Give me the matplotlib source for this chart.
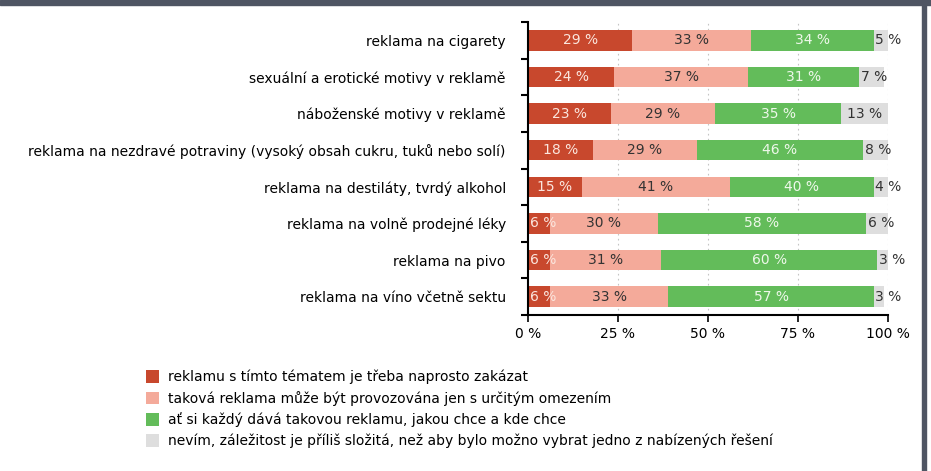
import numpy as np
import matplotlib.pyplot as plt
from matplotlib.patches import Patch

plt.rcParams['font.family'] = ['DejaVu Sans']

categories = [
    'reklama na cigarety',
    'sexuální a erotické motivy v reklamě',
    'náboženské motivy v reklamě',
    'reklama na nezdravé potraviny (vysoký obsah cukru, tuků nebo solí)',
    'reklama na destiláty, tvrdý alkohol',
    'reklama na volně prodejné léky',
    'reklama na pivo',
    'reklama na víno včetně sektu',
]
zakazat = [29, 24, 23, 18, 15, 6, 6, 6]
omezenim = [33, 37, 29, 29, 41, 30, 31, 33]
kazdy = [34, 31, 35, 46, 40, 58, 60, 57]
nevim = [5, 7, 13, 8, 4, 6, 3, 3]

series_names = [
    'reklamu s tímto tématem je třeba naprosto zakázat',
    'taková reklama může být provozována jen s určitým omezením',
    'ať si každý dává takovou reklamu, jakou chce a kde chce',
    'nevím, záležitost je příliš složitá, než aby bylo možno vybrat jedno z nabízených řešení',
]
colors = ['#c8482d', '#f4aa9a', '#63bc5a', '#dedede']
text_colors = ['#fbe6de', '#333333', '#eef8ea', '#333333']
ticks = [0, 25, 50, 75, 100]
tick_labels = ['0 %', '25 %', '50 %', '75 %', '100 %']

fig = plt.figure(figsize=(9.31, 4.71), dpi=100)
ax = fig.add_axes([528 / 931, 1 - 315 / 471, 360 / 931, 293 / 471])

y = np.arange(len(categories))
left = np.zeros(len(categories))
for vals, col, tcol in zip([zakazat, omezenim, kazdy, nevim], colors, text_colors):
    vals = np.array(vals)
    bars = ax.barh(y, vals, left=left, color=col, height=0.56, zorder=2)
    for b, v in zip(bars, vals):
        cy = b.get_y() + b.get_height() / 2
        if v < 9:
            # narrow segment: label starts at the segment edge
            ax.text(b.get_x() + 0.5, cy, f'{v} %', ha='left', va='center',
                    fontsize=10, color=tcol, zorder=3)
        else:
            ax.text(b.get_x() + b.get_width() / 2, cy, f'{v} %', ha='center',
                    va='center', fontsize=10, color=tcol, zorder=3)
    left += vals

ax.set_ylim(len(categories) - 0.5, -0.5)
ax.set_xlim(0, 100)
ax.set_xticks(ticks)
ax.set_xticklabels(tick_labels, fontsize=10)
ax.set_yticks(y)
ax.set_yticklabels(categories, fontsize=10)
ax.tick_params(axis='y', length=0, pad=16)
ax.set_yticks(np.arange(-0.5, len(categories), 1), minor=True)
ax.tick_params(axis='y', which='minor', length=5, width=1.5)
ax.tick_params(axis='x', length=5, width=1.2, pad=4)
for xv in ticks[1:]:
    ax.axvline(xv, color='#c4c4c4', lw=0.8, ls=(0, (1.5, 3)), zorder=1)

ax.spines['top'].set_visible(False)
ax.spines['right'].set_visible(False)
ax.spines['left'].set_linewidth(1.5)
ax.spines['bottom'].set_linewidth(1.5)

handles = [Patch(facecolor=c, edgecolor='none') for c in colors]
fig.legend(handles, series_names, loc='upper left', bbox_to_anchor=(140 / 931, 1 - 364 / 471),
           frameon=False, fontsize=10, handlelength=1.0, handleheight=1.0,
           handletextpad=0.6, labelspacing=0.48, borderaxespad=0)

# frame decoration
fig.patches.append(plt.Rectangle((0, 1 - 5 / 471), 1, 5 / 471, transform=fig.transFigure,
                                 color='#4f5563', zorder=5))
fig.patches.append(plt.Rectangle((922 / 931, 0), 4 / 931, 1, transform=fig.transFigure,
                                 color='#4f5563', zorder=5))

fig.savefig('out.png', dpi=100)
